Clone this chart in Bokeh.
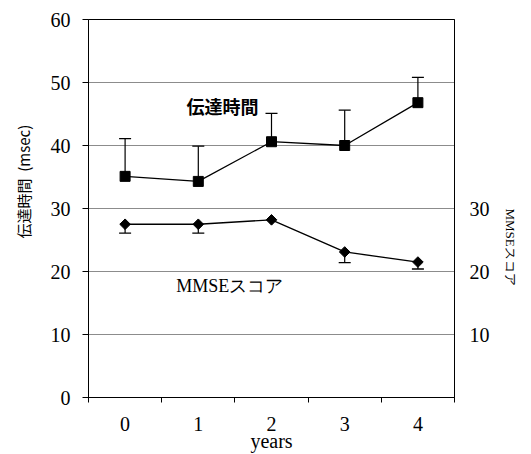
import math
import numpy as np
from bokeh.plotting import figure
from bokeh.models import Label, LinearAxis, FixedTicker, Range1d
from bokeh.embed import file_html
from bokeh.resources import INLINE

# ---- data ----
years = [0, 1, 2, 3, 4]
year_labels = ["0", "1", "2", "3", "4"]
latency = [35.1, 34.3, 40.6, 40.0, 46.8]        # 伝達時間 (msec)
latency_sd = [6.0, 5.6, 4.5, 5.6, 4.0]          # upper error
mmse = [27.5, 27.5, 28.2, 23.1, 21.5]           # MMSEスコア
mmse_sd = [1.4, 1.4, 0.0, 1.7, 1.1]             # lower error
left_ticks = [0, 10, 20, 30, 40, 50, 60]
right_ticks = [10, 20, 30]
grid_ticks = [10, 20, 30, 40, 50]

SERIF = "Liberation Serif"
JP = "Noto Sans CJK JP"
NBSP = "\u00a0"

p = figure(width=531, height=454, output_backend="svg", toolbar_location=None,
           x_range=Range1d(-0.5, 4.5), y_range=Range1d(0, 60),
           min_border_left=88, min_border_right=77, min_border_top=19,
           min_border_bottom=56)
p.outline_line_color = "black"
p.outline_line_width = 1
p.background_fill_color = "white"
p.border_fill_color = "white"

# axes
p.xaxis.ticker = FixedTicker(ticks=years, minor_ticks=[-0.5, 0.5, 1.5, 2.5, 3.5, 4.5])
p.xaxis.major_label_overrides = {y: l for y, l in zip(years, year_labels)}
p.xaxis.major_tick_out = 0
p.xaxis.major_tick_in = 0
p.xaxis.minor_tick_out = 5
p.xaxis.minor_tick_in = 0
p.xaxis.major_label_text_font = SERIF
p.xaxis.major_label_text_font_size = "20px"
p.xaxis.major_label_text_color = "black"
p.xaxis.major_label_standoff = 14
p.xaxis.axis_line_color = "black"
p.xaxis.axis_label = "years"
p.xaxis.axis_label_text_font = SERIF
p.xaxis.axis_label_text_font_size = "20px"
p.xaxis.axis_label_text_font_style = "normal"
p.xaxis.axis_label_text_color = "black"
p.xaxis.axis_label_standoff = -4

p.yaxis.ticker = FixedTicker(ticks=left_ticks)
p.yaxis.major_tick_out = 6
p.yaxis.major_tick_in = 0
p.yaxis.minor_tick_out = 0
p.yaxis.minor_tick_in = 0
p.yaxis.major_label_text_font = SERIF
p.yaxis.major_label_text_font_size = "20px"
p.yaxis.major_label_text_color = "black"
p.yaxis.major_label_standoff = 12
p.yaxis.axis_line_color = "black"
p.yaxis.axis_label = NBSP * 16 + "伝達時間" + NBSP * 2 + "(msec)"
p.yaxis.axis_label_text_font = JP
p.yaxis.axis_label_text_font_size = "15px"
p.yaxis.axis_label_text_font_style = "normal"
p.yaxis.axis_label_text_color = "black"
p.yaxis.axis_label_standoff = 14

raxis = LinearAxis(ticker=FixedTicker(ticks=right_ticks))
raxis.major_tick_out = 0
raxis.major_tick_in = 0
raxis.minor_tick_out = 0
raxis.minor_tick_in = 0
raxis.major_label_text_font = SERIF
raxis.major_label_text_font_size = "20px"
raxis.major_label_text_color = "black"
raxis.major_label_standoff = 15
raxis.axis_line_color = "black"
raxis.axis_label = "MMSEスコア" + NBSP * 23
raxis.axis_label_orientation = -math.pi / 2
raxis.axis_label_text_font = SERIF
raxis.axis_label_text_font_size = "13px"
raxis.axis_label_text_font_style = "normal"
raxis.axis_label_text_color = "black"
raxis.axis_label_standoff = 18
p.add_layout(raxis, "right")

p.xgrid.grid_line_color = None
p.ygrid.ticker = FixedTicker(ticks=grid_ticks)
p.ygrid.grid_line_color = "#8c8c8c"
p.ygrid.grid_line_width = 1

# error bars
lat = np.array(latency); lsd = np.array(latency_sd)
mm = np.array(mmse); msd = np.array(mmse_sd)
yrs = np.array(years, dtype=float)
p.segment(x0=yrs, y0=lat, x1=yrs, y1=lat + lsd, line_color="black", line_width=1.2)
p.scatter(x=yrs, y=lat + lsd, marker="dash", size=12, line_color="black", line_width=1.3)
mask = msd > 0
p.segment(x0=yrs[mask], y0=mm[mask], x1=yrs[mask], y1=(mm - msd)[mask], line_color="black", line_width=1.2)
p.scatter(x=yrs[mask], y=(mm - msd)[mask], marker="dash", size=12, line_color="black", line_width=1.3)

# series
p.line(years, latency, line_color="black", line_width=1.3)
p.scatter(years, latency, marker="square", size=10, fill_color="black", line_color="black")
p.line(years, mmse, line_color="black", line_width=1.3)
p.scatter(years, mmse, marker="square", size=7.5, angle=math.pi / 4,
          fill_color="black", line_color="black")

# in-plot labels
p.add_layout(Label(x=1.33, y=46.2, text="伝達時間", text_font=JP, text_font_style="bold",
                   text_font_size="18px", text_align="center", text_baseline="middle",
                   text_color="black"))
p.add_layout(Label(x=1.43, y=17.7, text="MMSEスコア", text_font=SERIF,
                   text_font_size="18px", text_align="center", text_baseline="middle",
                   text_color="black"))

open("out.html", "w").write(file_html(p, INLINE))
